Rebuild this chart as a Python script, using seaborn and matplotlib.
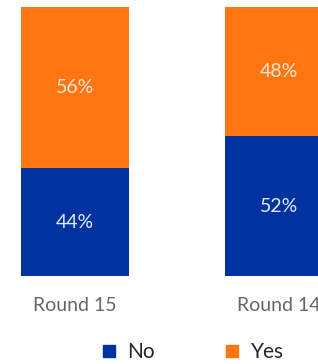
import pandas as pd
import seaborn as sns
import matplotlib.pyplot as plt
from matplotlib.lines import Line2D

# values (bar heights) and the printed labels
rounds = ['Round 15', 'Round 14']
no_vals = [40, 52]
yes_vals = [60, 48]
no_labels = ['44%', '52%']
yes_labels = ['56%', '48%']

blue = '#0033A0'
orange = '#FF7512'

sns.set_style('white')
plt.rcParams['font.family'] = ['Lato', 'DejaVu Sans']

df = pd.DataFrame({'Round': rounds, 'No': no_vals, 'Yes': yes_vals})
df['Total'] = df['No'] + df['Yes']

fig = plt.figure(figsize=(3.18, 3.64), dpi=100)
ax = fig.add_axes([0, 88 / 364, 1, 269 / 364])

sns.barplot(data=df, x='Round', y='Total', order=rounds, color=orange,
            width=0.53, saturation=1, edgecolor='none', ax=ax)
sns.barplot(data=df, x='Round', y='No', order=rounds, color=blue,
            width=0.53, saturation=1, edgecolor='none', ax=ax)

for i in range(len(df)):
    ax.text(i, df['No'][i] / 2, no_labels[i], ha='center', va='center',
            color='#E6ECF7', fontsize=14)
    ax.text(i, df['No'][i] + df['Yes'][i] / 2, yes_labels[i], ha='center',
            va='center', color='#FFE6D2', fontsize=14)

ax.set_xlim(-75 / 204, 1 + 39 / 204)
ax.set_ylim(0, 100)
ax.set_xlabel('')
ax.set_ylabel('')
ax.set_yticks([])
ax.tick_params(axis='x', length=0, pad=15, labelsize=14, labelcolor='#666666')
sns.despine(ax=ax, left=True, bottom=True)

handles = [Line2D([], [], marker='s', linestyle='', color=blue, markersize=8.5),
           Line2D([], [], marker='s', linestyle='', color=orange, markersize=8.5)]
leg = fig.legend(handles, ['No', 'Yes'], loc='center', ncol=2, frameon=False,
                 bbox_to_anchor=(191 / 318, 1 - 352 / 364), fontsize=15,
                 handletextpad=0.4, columnspacing=3.2, handlelength=1.0)
for t in leg.get_texts():
    t.set_color('#262626')

fig.savefig('out.png', dpi=100)
